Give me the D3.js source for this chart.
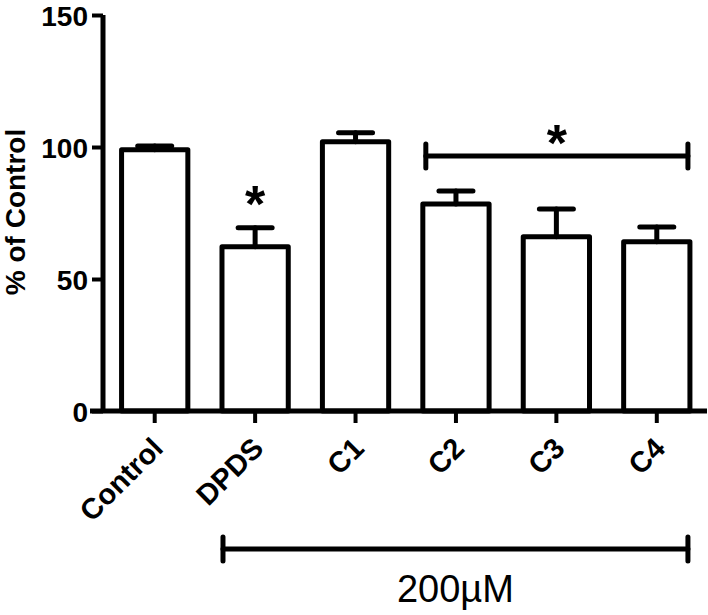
<!DOCTYPE html>
<html>
<head>
<meta charset="utf-8">
<script src="https://cdn.jsdelivr.net/npm/d3@7"></script>
<style>
  html, body { margin: 0; padding: 0; background: #fff; }
  svg { display: block; }
  text { font-family: "Liberation Sans", Arial, sans-serif; fill: #000; }
</style>
</head>
<body>
<svg id="chart" width="708" height="615"></svg>
<script>
// ---- data ----
const categories = ["Control", "DPDS", "C1", "C2", "C3", "C4"];
const means = [99, 62.2, 102, 78.4, 66, 64.1];
const sems  = [1.4, 7.2, 3.4, 4.9, 10.5, 5.6];
const yTicks = [0, 50, 100, 150];
const yLabel = "% of Control";
const bracketLabel = "200\u00b5M";
const starSingle = ["DPDS"];
const starGroup = ["C2", "C4"];
const doseGroup = ["DPDS", "C4"];

// ---- layout ----
const svg = d3.select("#chart");
const axisX = 103, axisY = 411;
const x = d3.scaleBand().domain(categories).range([104.5, 707])
  .paddingInner(0.34).paddingOuter(0.17);
const y = d3.scaleLinear().domain([0, 150]).range([axisY, 15]);
const SW = 5;

// bars
svg.append("g").selectAll("rect").data(categories).join("rect")
  .attr("x", d => x(d))
  .attr("y", (d, i) => y(means[i]))
  .attr("width", x.bandwidth())
  .attr("height", (d, i) => axisY - y(means[i]))
  .attr("fill", "#fff").attr("stroke", "#000")
  .attr("stroke-width", SW).attr("stroke-linejoin", "round");

// error bars (upper only)
const eb = svg.append("g").attr("stroke", "#000").attr("stroke-width", SW)
  .attr("stroke-linecap", "round");
categories.forEach((c, i) => {
  const cx = x(c) + x.bandwidth() / 2;
  const top = y(means[i] + sems[i]);
  eb.append("line").attr("x1", cx).attr("x2", cx).attr("y1", y(means[i])).attr("y2", top);
  eb.append("line").attr("x1", cx - 17).attr("x2", cx + 17).attr("y1", top).attr("y2", top);
});

// y axis
const yAxis = svg.append("g").attr("transform", `translate(${axisX},0)`)
  .call(d3.axisLeft(y).tickValues(yTicks).tickSize(11).tickPadding(4).tickFormat(d3.format("d")));
yAxis.select(".domain").attr("d", `M0,${y(150)}V${axisY}`).attr("stroke-width", 5);
yAxis.selectAll(".tick line").attr("stroke-width", 4);
yAxis.selectAll(".tick text").attr("font-size", 28).attr("font-weight", "bold")
  .attr("font-family", "Liberation Sans, Arial, sans-serif").attr("dy", "0.36em");

// x axis
const xAxis = svg.append("g").attr("transform", `translate(0,${axisY})`)
  .call(d3.axisBottom(x).tickSize(12).tickSizeOuter(0));
xAxis.select(".domain").attr("d", `M${axisX - 13},0H707`).attr("stroke-width", 5);
xAxis.selectAll(".tick line").attr("stroke-width", 4);
xAxis.selectAll(".tick text")
  .attr("font-size", 29).attr("font-weight", "bold")
  .attr("font-family", "Liberation Sans, Arial, sans-serif")
  .attr("text-anchor", "end")
  .attr("y", 0).attr("dy", 0)
  .attr("transform", "translate(10,39) rotate(-45)");

// y label
svg.append("text")
  .attr("transform", `translate(25,212) rotate(-90)`)
  .attr("text-anchor", "middle")
  .attr("font-size", 28).attr("font-weight", "bold")
  .text(yLabel);

// significance stars
function star(cx, cy) {
  svg.append("text").attr("x", cx).attr("y", cy + 30)
    .attr("text-anchor", "middle").attr("font-size", 52).attr("font-weight", "bold")
    .text("*");
}
const cxOf = c => x(c) + x.bandwidth() / 2;
starSingle.forEach(c => {
  const i = categories.indexOf(c);
  star(cxOf(c), y(means[i] + sems[i]) - 36);
});

// group significance bracket
const gx1 = x(starGroup[0]) + 3, gx2 = x(starGroup[1]) + x.bandwidth() - 2;
const gy = 156;
const gb = svg.append("g").attr("stroke", "#000").attr("stroke-width", SW).attr("stroke-linecap", "round");
gb.append("line").attr("x1", gx1).attr("x2", gx2).attr("y1", gy).attr("y2", gy);
gb.append("line").attr("x1", gx1).attr("x2", gx1).attr("y1", gy - 12).attr("y2", gy + 12);
gb.append("line").attr("x1", gx2).attr("x2", gx2).attr("y1", gy - 12).attr("y2", gy + 12);
star((gx1 + gx2) / 2, 131);

// dose bracket
const dx1 = x(doseGroup[0]) + 1, dx2 = x(doseGroup[1]) + x.bandwidth() - 2;
const dy = 549;
const db = svg.append("g").attr("stroke", "#000").attr("stroke-width", SW).attr("stroke-linecap", "round");
db.append("line").attr("x1", dx1).attr("x2", dx2).attr("y1", dy).attr("y2", dy);
db.append("line").attr("x1", dx1).attr("x2", dx1).attr("y1", dy - 12).attr("y2", dy + 12);
db.append("line").attr("x1", dx2).attr("x2", dx2).attr("y1", dy - 12).attr("y2", dy + 12);
svg.append("text").attr("x", (dx1 + dx2) / 2).attr("y", 602)
  .attr("text-anchor", "middle").attr("font-size", 38)
  .text(bracketLabel);
</script>
</body>
</html>
